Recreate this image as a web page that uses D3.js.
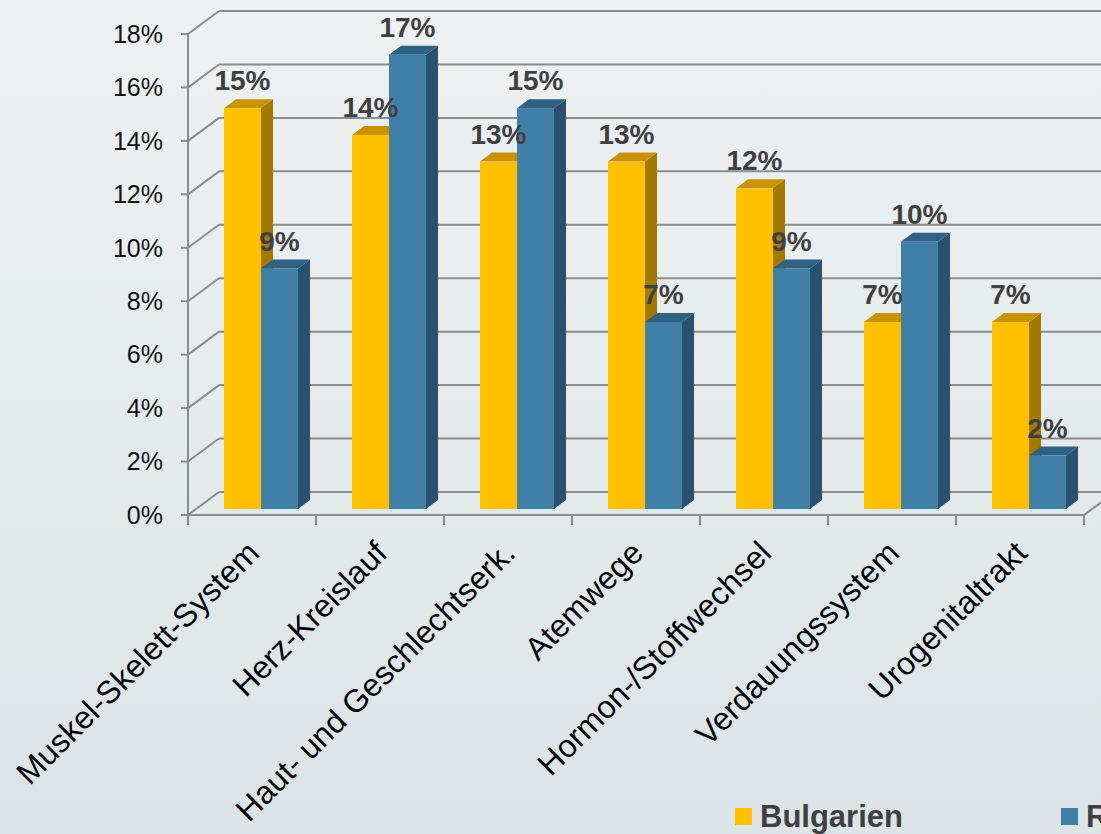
<!DOCTYPE html>
<html><head><meta charset="utf-8">
<script src="https://cdn.jsdelivr.net/npm/d3@7"></script>
<style>html,body{margin:0;padding:0;overflow:hidden;}svg{display:block;}</style>
</head><body>
<svg id="chart" width="1101" height="834"></svg>
<script>
const categories = ["Muskel-Skelett-System","Herz-Kreislauf","Haut- und Geschlechtserk.","Atemwege","Hormon-/Stoffwechsel","Verdauungssystem","Urogenitaltrakt"];
const seriesNames = ["Bulgarien","Rumänien"];
const bulgarien = [15,14,13,13,12,7,7];
const rumaenien = [9,17,15,7,9,10,2];
const yTicks = [0,2,4,6,8,10,12,14,16,18];

const W=1101,H=834;
const svg=d3.select("#chart");
const defs=svg.append("defs");
const g=defs.append("linearGradient").attr("id","bg").attr("x1",0).attr("y1",0).attr("x2",0).attr("y2",1);
g.append("stop").attr("offset","0%").attr("stop-color","#eef1f2");
g.append("stop").attr("offset","100%").attr("stop-color","#dce4e7");
svg.append("rect").attr("width",W).attr("height",H).attr("fill","url(#bg)");

const x0=188, x1=1084, yBase=515, yTop=34;
const wallDx=31, wallDy=-23;
const x=d3.scaleBand().domain(categories).range([x0,x1]);
const y=d3.scaleLinear().domain([0,18]).range([yBase,yTop]);
const grid="#8c8c8c";

// back wall gridlines + diagonals
yTicks.forEach(t=>{
  svg.append("line").attr("x1",x0).attr("y1",y(t)).attr("x2",x0+wallDx).attr("y2",y(t)+wallDy).attr("stroke",grid).attr("stroke-width",2);
  svg.append("line").attr("x1",x0+wallDx).attr("y1",y(t)+wallDy).attr("x2",x1+wallDx+40).attr("y2",y(t)+wallDy).attr("stroke",grid).attr("stroke-width",2);
});
// floor right edge
svg.append("line").attr("x1",x1).attr("y1",yBase).attr("x2",x1+wallDx).attr("y2",yBase+wallDy).attr("stroke",grid).attr("stroke-width",2);
// front axes
svg.append("line").attr("x1",x0).attr("y1",yTop).attr("x2",x0).attr("y2",yBase).attr("stroke",grid).attr("stroke-width",2);
svg.append("line").attr("x1",x0).attr("y1",yBase).attr("x2",x1).attr("y2",yBase).attr("stroke",grid).attr("stroke-width",2);
yTicks.forEach(t=>{
  svg.append("line").attr("x1",x0-7).attr("y1",y(t)).attr("x2",x0).attr("y2",y(t)).attr("stroke",grid).attr("stroke-width",2);
  svg.append("text").attr("x",163).attr("y",y(t)).attr("dy","0.35em").attr("text-anchor","end")
    .attr("font-family","Liberation Sans, Arial, sans-serif").attr("font-size",25).attr("fill","#111").text(t+"%");
});
d3.range(categories.length+1).forEach(i=>{
  const xx=x0+i*x.bandwidth();
  svg.append("line").attr("x1",xx).attr("y1",yBase).attr("x2",xx).attr("y2",yBase+10).attr("stroke",grid).attr("stroke-width",2);
});

// bars
const offDx=8, offDy=-6, bDx=12, bDy=-9, barW=37, barStart=36;
const series=[{name:seriesNames[0],vals:bulgarien,front:"#ffc000",top:"#c99300",side:"#a37a00"},
              {name:seriesNames[1],vals:rumaenien,front:"#4080a8",top:"#2f6282",side:"#29516b"}];
const bars=svg.append("g");
categories.forEach((c,i)=>{
  series.forEach((s,k)=>{
    const v=s.vals[i];
    const xl=x(c)+barStart+k*barW, xr=xl+barW;
    const yt=y(v)+offDy, yb=y(0)+offDy;
    bars.append("path").attr("d",`M${xr},${yt}L${xr+bDx},${yt+bDy}L${xr+bDx},${yb+bDy}L${xr},${yb}Z`).attr("fill",s.side);
    bars.append("path").attr("d",`M${xl},${yt}L${xl+bDx},${yt+bDy}L${xr+bDx},${yt+bDy}L${xr},${yt}Z`).attr("fill",s.top);
    bars.append("rect").attr("x",xl).attr("y",yt).attr("width",barW).attr("height",yb-yt).attr("fill",s.front);
  });
});
categories.forEach((c,i)=>{
  series.forEach((s,k)=>{
    const v=s.vals[i];
    const xl=x(c)+barStart+k*barW;
    svg.append("text").attr("x",xl+barW/2).attr("y",y(v)+offDy-18).attr("text-anchor","middle")
      .attr("font-family","Liberation Sans, Arial, sans-serif").attr("font-weight","bold").attr("font-size",28).attr("fill","#404040").text(v+"%");
  });
});
// category labels
categories.forEach(c=>{
  const cx=x(c)+x.bandwidth()/2+9, cy=555;
  svg.append("text").attr("transform",`translate(${cx},${cy}) rotate(-45)`).attr("text-anchor","end")
    .attr("font-family","Liberation Sans, Arial, sans-serif").attr("font-size",32).attr("fill","#000").text(c);
});
// legend
const legX=[735,1061];
series.forEach((s,k)=>{
  svg.append("rect").attr("x",legX[k]).attr("y",808).attr("width",17).attr("height",17).attr("fill",s.front);
  svg.append("text").attr("x",legX[k]+25).attr("y",827).attr("font-family","Liberation Sans, Arial, sans-serif")
    .attr("font-weight","bold").attr("font-size",31).attr("fill","#404040").text(s.name);
});
</script>
</body></html>
